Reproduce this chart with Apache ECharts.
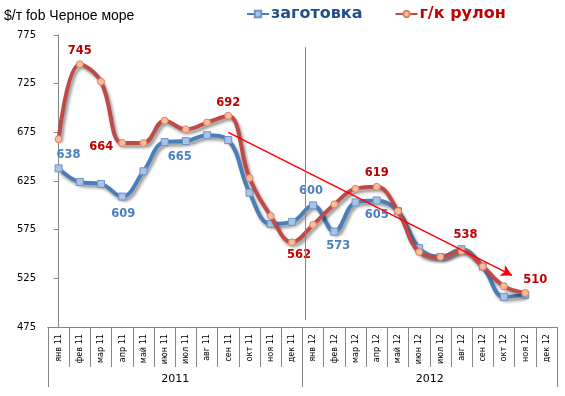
<!DOCTYPE html>
<html><head><meta charset="utf-8">
<script src="https://cdn.jsdelivr.net/npm/echarts@6/dist/echarts.min.js"></script>
<style>html,body{margin:0;padding:0;background:#fff}#c{width:565px;height:396px}</style>
</head><body><div id="c"></div>
<script>
// ---- data ----
const months = ['янв 11','фев 11','мар 11','апр 11','май 11','июн 11','июл 11','авг 11','сен 11','окт 11','ноя 11','дек 11',
                'янв 12','фев 12','мар 12','апр 12','май 12','июн 12','июл 12','авг 12','сен 12','окт 12','ноя 12','дек 12'];
const years = ['2011','2012'];
const billet = [638,624,622,609,635,665,666,672,667,613,581,583,600,573,603,605,594,556,547,555,537,506,508,null];
const coil   = [668,745,727,664,664,687,678,685,692,628,589,562,580,601,617,619,594,552,547,553,537,517,510,null];
const billetLabels = ['638','','','609','','665','','','','','','','600','573','','605','','','','','','','',''];
const coilLabels   = ['','745','','664','','','','','692','','','562','','','','619','','','','538','','','510',''];
const yTicks = [475,525,575,625,675,725,775];
const trendStart = [8, 675];
const trendEnd = [21.38, 528];
const dividerX = 11.64;
const dividerRange = [482, 762.5];

// ---- chart ----
const billetOffsets = {0:[10,-13],3:[1,17],5:[15,15],12:[-2,-14],13:[4,14],15:[0,15]};
const coilOffsets = {1:[0,-13],3:[-21,4],8:[0,-13],11:[7,13],15:[0,-14],19:[4,-16],22:[10,-13]};

function buildData(values, labels, offsets, color) {
  return values.map((v, i) => {
    if (!labels[i]) return v;
    return { value: v, label: { show: true, position: 'inside', offset: offsets[i] || [0,0],
      formatter: labels[i], color: color, fontFamily: 'DejaVu Sans', fontWeight: 'bold', fontSize: 11.5 } };
  });
}

const axisGray = '#868686';
const chart = echarts.init(document.getElementById('c'), null, {renderer: 'canvas'});
chart.setOption({
  animation: false,
  title: { text: '$/т fob Черное море', left: 4, top: 9, padding: 0,
    textStyle: { fontSize: 14, fontWeight: 'normal', color: '#000', fontFamily: 'Liberation Sans' } },
  legend: {
    left: 246, top: 6, padding: 0, itemGap: 32, itemWidth: 22, itemHeight: 8,
    data: [
      { name: 'заготовка', textStyle: { color: '#1f4e8c' } },
      { name: 'г/к рулон', textStyle: { color: '#c00000' } }
    ],
    textStyle: { fontSize: 16, fontWeight: 'bold', fontFamily: 'DejaVu Sans', padding: [0,0,0,-3] }
  },
  grid: { left: 48, right: 8, top: 35, bottom: 69, containLabel: false },
  xAxis: [
    { type: 'category', data: months, boundaryGap: true, position: 'bottom',
      axisLine: { lineStyle: { color: axisGray } },
      axisTick: { show: true, length: 40, interval: 0, lineStyle: { color: axisGray } },
      axisLabel: { rotate: 90, interval: 0, margin: 7, fontSize: 9, color: '#000',
        fontFamily: "'Liberation Sans Narrow', 'DejaVu Sans Condensed', 'Liberation Sans'" } },
    { type: 'category', data: years, boundaryGap: true, position: 'bottom',
      axisLine: { lineStyle: { color: axisGray } },
      axisTick: { show: true, length: 60, interval: 0, lineStyle: { color: axisGray } },
      axisLabel: { margin: 47, fontSize: 11, color: '#000', fontFamily: 'DejaVu Sans' } },
    { type: 'value', min: -0.5, max: 23.5, show: false }
  ],
  yAxis: [
    { type: 'value', min: 475, max: 775, splitLine: { show: false },
      axisLine: { show: true, lineStyle: { color: axisGray } },
      axisTick: { show: true, length: 5, customValues: yTicks, lineStyle: { color: axisGray } },
      axisLabel: { customValues: yTicks, margin: 12, fontSize: 10, color: '#000', fontFamily: 'DejaVu Sans' } }
  ],
  series: [
    { name: 'заготовка', type: 'line', xAxisIndex: 0, smooth: 0.4, showAllSymbol: true,
      symbol: 'rect', symbolSize: 7,
      data: buildData(billet, billetLabels, billetOffsets, '#4a7fc0'),
      lineStyle: { color: '#4a7ebb', width: 4, shadowColor: 'rgba(0,0,0,0.4)', shadowBlur: 3, shadowOffsetX: 2, shadowOffsetY: 3 },
      itemStyle: { color: '#a9c3e6', borderColor: '#6d93c9', borderWidth: 1 },
      z: 3 },
    { name: 'г/к рулон', type: 'line', xAxisIndex: 0, smooth: 0.4, showAllSymbol: true,
      symbol: 'circle', symbolSize: 7,
      data: buildData(coil, coilLabels, coilOffsets, '#c00000'),
      lineStyle: { color: '#be4b48', width: 4, shadowColor: 'rgba(0,0,0,0.4)', shadowBlur: 3, shadowOffsetX: 2, shadowOffsetY: 3 },
      itemStyle: { color: '#fbbd95', borderColor: '#d9826a', borderWidth: 1 },
      z: 4 },
    { name: 'trend', type: 'line', xAxisIndex: 2, symbol: 'none',
      data: [trendStart, trendEnd], lineStyle: { opacity: 0 }, silent: true, z: 5,
      markLine: { silent: true, symbol: ['none','arrow'], symbolSize: [9, 11], label: { show: false },
        lineStyle: { color: '#ff0000', width: 1.5, type: 'solid' },
        data: [[{ coord: trendStart }, { coord: trendEnd }]] } },
    { name: 'divider', type: 'line', xAxisIndex: 2, symbol: 'none',
      data: [[dividerX, dividerRange[0]], [dividerX, dividerRange[1]]], lineStyle: { opacity: 0 }, silent: true, z: 2,
      markLine: { silent: true, symbol: ['none','none'], label: { show: false },
        lineStyle: { color: '#2ca6c6', width: 1, type: 'solid' },
        data: [[{ coord: [dividerX, dividerRange[0]] }, { coord: [dividerX, dividerRange[1]] }]] } }
  ]
});
</script>
</body></html>
